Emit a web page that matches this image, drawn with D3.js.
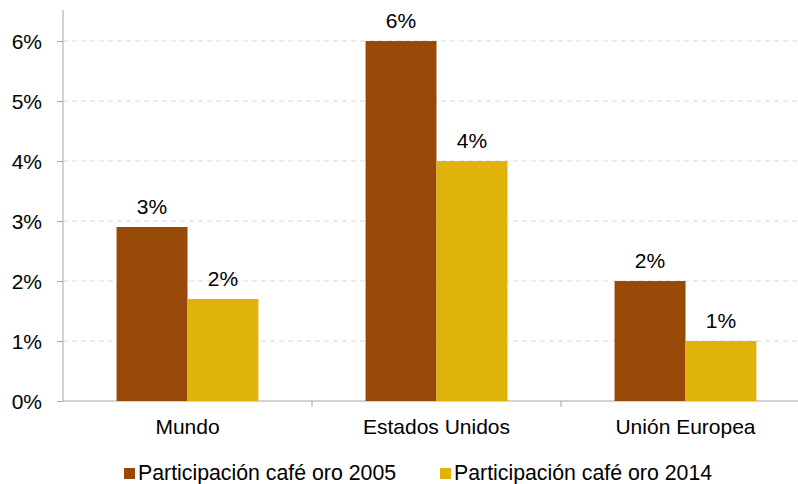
<!DOCTYPE html>
<html lang="es">
<head>
<meta charset="UTF-8">
<title>Participación café oro</title>
<script src="https://d3js.org/d3.v7.min.js"></script>
<style>
    body { margin: 0; background: #fff; }
    text { font-family: "Liberation Sans", Arial, sans-serif; fill: #000; }
    .grid line { stroke: #d9d9d9; stroke-dasharray: 5 4; }
    .axis path, .axis line { stroke: #a6a6a6; }
</style>
</head>
<body>
<div id="chart"></div>
<script>
// data
const categories = ["Mundo", "Estados Unidos", "Unión Europea"];
const seriesNames = ["Participación café oro 2005", "Participación café oro 2014"];
const values2005 = [2.9, 6.0, 2.0];
const values2014 = [1.7, 4.0, 1.0];
const yTicks = [0, 1, 2, 3, 4, 5, 6];
const colors = ["#984807", "#e0b30a"];

const width = 798, height = 484;
const plotLeft = 63, plotTop = 10, plotBottom = 401;
const bandW = 249;

const svg = d3.select("#chart").append("svg")
    .attr("width", width)
    .attr("height", height);

const x0 = d3.scaleBand()
    .domain(categories)
    .range([plotLeft, plotLeft + bandW * categories.length])
    .paddingInner(0)
    .paddingOuter(0);

const x1 = d3.scaleBand()
    .domain([0, 1])
    .range([0, bandW])
    .paddingInner(0)
    .paddingOuter(0.755);

const y = d3.scaleLinear().domain([0, 6]).range([plotBottom, 41]);

// gridlines
svg.append("g").attr("class", "grid")
    .selectAll("line")
    .data(yTicks.filter(d => d > 0))
    .join("line")
    .attr("x1", plotLeft).attr("x2", width)
    .attr("y1", d => y(d)).attr("y2", d => y(d));

// y axis
const yAxis = svg.append("g").attr("class", "axis")
    .attr("transform", "translate(" + plotLeft + ",0)")
    .call(d3.axisLeft(y).tickValues(yTicks).tickSize(6).tickFormat(d => d + "%"));
yAxis.select(".domain").attr("d", "M0," + plotTop + "V" + plotBottom);
yAxis.selectAll("text").attr("x", -21).style("font-size", "21px").attr("dy", "0.36em");

// x axis
const xAxis = svg.append("g").attr("class", "axis")
    .attr("transform", "translate(0," + plotBottom + ")");
xAxis.append("line").attr("x1", plotLeft).attr("x2", width).attr("y1", 0).attr("y2", 0);
xAxis.selectAll(".tk")
    .data(categories.slice(1))
    .join("line")
    .attr("class", "tk")
    .attr("x1", d => x0(d)).attr("x2", d => x0(d))
    .attr("y1", 0).attr("y2", 6);
xAxis.selectAll("text")
    .data(categories)
    .join("text")
    .attr("x", d => x0(d) + x0.bandwidth() / 2)
    .attr("y", 33)
    .attr("text-anchor", "middle")
    .style("font-size", "21px")
    .text(d => d);

// bars
const rows = categories.map((c, i) => ({ cat: c, vals: [values2005[i], values2014[i]] }));
const groups = svg.selectAll(".grp")
    .data(rows)
    .join("g")
    .attr("class", "grp")
    .attr("transform", d => "translate(" + x0(d.cat) + ",0)");

groups.selectAll("rect")
    .data(d => d.vals.map((v, k) => ({ v: v, k: k })))
    .join("rect")
    .attr("x", d => x1(d.k))
    .attr("width", x1.bandwidth())
    .attr("y", d => y(d.v))
    .attr("height", d => plotBottom - y(d.v))
    .attr("fill", d => colors[d.k]);

groups.selectAll(".lbl")
    .data(d => d.vals.map((v, k) => ({ v: v, k: k })))
    .join("text")
    .attr("class", "lbl")
    .attr("x", d => x1(d.k) + x1.bandwidth() / 2)
    .attr("y", d => y(d.v) - 13)
    .attr("text-anchor", "middle")
    .style("font-size", "21px")
    .text(d => Math.round(d.v) + "%");

// legend
const legend = svg.append("g").attr("transform", "translate(124,480)");
const lx = [0, 316];
seriesNames.forEach((s, i) => {
    legend.append("rect")
        .attr("x", lx[i]).attr("y", -12)
        .attr("width", 11).attr("height", 11)
        .attr("fill", colors[i]);
    legend.append("text")
        .attr("x", lx[i] + 14).attr("y", 0)
        .style("font-size", "21.3px")
        .text(s);
});
</script>
</body>
</html>
